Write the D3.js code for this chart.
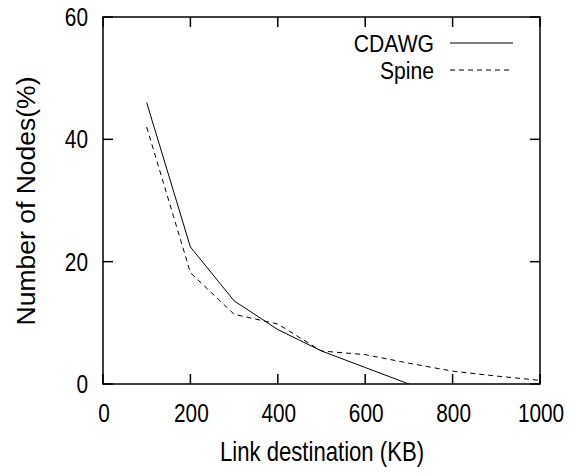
<!DOCTYPE html>
<html lang="en">
<head>
<meta charset="utf-8">
<style type="text/css">
    body { margin: 0; background: #fff; }
    text { font-family: "Liberation Sans", Arial, sans-serif; fill: #000; }
    .frame { fill: none; stroke: #000; stroke-width: 1.5; }
    .tick { stroke: #000; stroke-width: 1.5; }
</style>
</head>
<body>
<svg width="570" height="474"></svg>
<script src="https://cdn.jsdelivr.net/npm/d3@7"></script>
<script type="text/javascript">
    // values
    var xCdawg = [100, 200, 300, 400, 500, 600, 700];
    var yCdawg = [46, 22.4, 13.6, 8.9, 5.4, 2.7, 0];
    var xSpine = [100, 200, 300, 400, 500, 600, 700, 800, 900, 1000];
    var ySpine = [42, 18.2, 11.4, 9.8, 5.4, 4.8, 3.4, 2.1, 1.3, 0.6];
    var xTicks = [0, 200, 400, 600, 800, 1000];
    var yTicks = [0, 20, 40, 60];
    var seriesNames = ["CDAWG", "Spine"];

    var svg = d3.select("svg"),
        mLeft = 103, mRight = 540, mTop = 17, mBottom = 384;

    var x = d3.scaleLinear().domain([0, 1000]).range([mLeft, mRight]);
    var y = d3.scaleLinear().domain([0, 60]).range([mBottom, mTop]);
    var tickLen = 10;

    // the original text is tall and narrow, so squeeze it sideways
    function label(px, py, str, anchor, size, sx, rot) {
        var t = "translate(" + px + "," + py + ")" + (rot ? " rotate(" + rot + ")" : "") + " scale(" + sx + ",1)";
        return svg.append("text")
            .attr("transform", t)
            .attr("text-anchor", anchor)
            .attr("font-size", size)
            .text(str);
    }

    // ticks on all four sides, pointing inward
    xTicks.forEach(function (t) {
        svg.append("line").attr("class", "tick")
            .attr("x1", x(t)).attr("x2", x(t)).attr("y1", mBottom).attr("y2", mBottom - tickLen);
        svg.append("line").attr("class", "tick")
            .attr("x1", x(t)).attr("x2", x(t)).attr("y1", mTop).attr("y2", mTop + tickLen);
        label(x(t) + 1, 422, t, "middle", 26, 0.8);
    });
    yTicks.forEach(function (t) {
        svg.append("line").attr("class", "tick")
            .attr("x1", mLeft).attr("x2", mLeft + tickLen).attr("y1", y(t)).attr("y2", y(t));
        svg.append("line").attr("class", "tick")
            .attr("x1", mRight).attr("x2", mRight - tickLen).attr("y1", y(t)).attr("y2", y(t));
        label(88, y(t) + 9, t, "end", 26, 0.8);
    });

    svg.append("rect").attr("class", "frame")
        .attr("x", mLeft).attr("y", mTop)
        .attr("width", mRight - mLeft).attr("height", mBottom - mTop);

    var line = d3.line()
        .x(function (d) { return x(d[0]); })
        .y(function (d) { return y(d[1]); });

    svg.append("path")
        .datum(d3.zip(xCdawg, yCdawg))
        .attr("d", line)
        .attr("fill", "none").attr("stroke", "#000").attr("stroke-width", 1);
    svg.append("path")
        .datum(d3.zip(xSpine, ySpine))
        .attr("d", line)
        .attr("fill", "none").attr("stroke", "#000").attr("stroke-width", 1)
        .attr("stroke-dasharray", "5,4");

    // legend
    var legY = [43, 70];
    seriesNames.forEach(function (name, i) {
        label(434, legY[i] + 8.5, name, "end", 24, 0.88);
        svg.append("line")
            .attr("x1", 450).attr("x2", 513).attr("y1", legY[i]).attr("y2", legY[i])
            .attr("stroke", "#000").attr("stroke-width", 1)
            .attr("stroke-dasharray", i == 1 ? "5,4" : null);
    });

    // axis titles
    label(322, 461, "Link destination (KB)", "middle", 27, 0.82);
    label(35, 201, "Number of Nodes(%)", "middle", 26.5, 1, -90);
</script>
</body>
</html>
